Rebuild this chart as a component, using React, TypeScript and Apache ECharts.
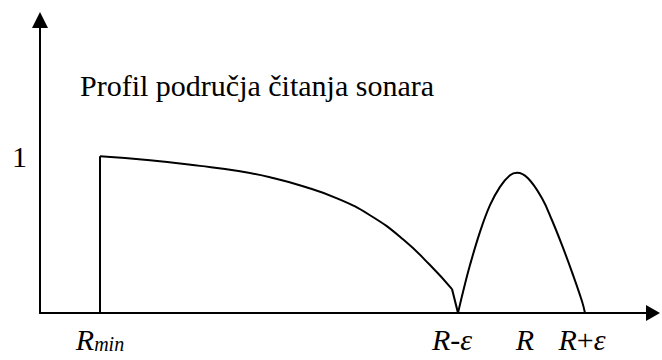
import React, { useEffect, useRef } from "react";
import * as echarts from "echarts";

// Sonar reading-area profile: normalized response against range.
// Range values are measured from the origin of the horizontal axis.
const RANGE_MAX = 613;
const RESPONSE_MAX = 1.87;

// Vertical edge at R_min
const edgeAtRmin: [number, number][] = [
  [60, 0],
  [60, 1.0],
];

// Decaying main reading zone, R_min .. just before R-ε
const mainZone: [number, number][] = [
  [60, 1.0],
  [110, 0.975],
  [160, 0.939],
  [200, 0.904],
  [230, 0.866],
  [263, 0.809],
  [297, 0.732],
  [330, 0.624],
  [363, 0.471],
  [390, 0.306],
  [412, 0.153],
];

// Short drop to zero at R-ε
const dropToZero: [number, number][] = [
  [412, 0.153],
  [418, 0],
];

// Hump around R, between R-ε and R+ε
const echoZone: [number, number][] = [
  [418, 0],
  [423, 0.134],
  [430, 0.306],
  [440, 0.518],
  [450, 0.688],
  [460, 0.805],
  [470, 0.879],
  [477, 0.895],
  [488, 0.86],
  [502, 0.732],
  [512, 0.592],
  [522, 0.433],
  [532, 0.261],
  [542, 0.075],
  [545, 0],
];

// Horizontal axis labels
const xLabelValues = [60, 412, 485, 542];
const xLabelTexts = [
  "{i|R}{sub|min}",
  "{i|R}{n|-}{i|ε}",
  "{i|R}",
  "{i|R}{n|+}{i|ε}",
];

// Vertical axis labels
const yLabelValues = [1];
const yLabelTexts = ["1"];

const TITLE = "Profil područja čitanja sonara";
const SERIF = "Liberation Serif, Times New Roman, serif";

export default function App() {
  const ref = useRef<HTMLDivElement>(null);

  useEffect(() => {
    if (!ref.current) return;
    const chart = echarts.init(ref.current, undefined, { renderer: "svg" });

    const lineStyle = { color: "#000", width: 2 };
    const mkSeries = (data: [number, number][], smooth: number | boolean) => ({
      type: "line",
      data,
      smooth,
      showSymbol: false,
      symbol: "none",
      lineStyle,
      silent: true,
    });

    chart.setOption({
      animation: false,
      backgroundColor: "#fff",
      title: {
        text: TITLE,
        left: 80,
        top: 70,
        padding: 0,
        textStyle: {
          fontFamily: SERIF,
          fontSize: 30,
          fontWeight: "normal",
          color: "#000",
        },
      },
      grid: { left: 40, right: 9, top: 20, bottom: 47 },
      xAxis: {
        type: "value",
        min: 0,
        max: RANGE_MAX,
        splitLine: { show: false },
        axisTick: { show: false },
        axisLine: {
          show: true,
          symbol: ["none", "triangle"],
          symbolSize: [16, 14],
          lineStyle: { color: "#000", width: 2 },
        },
        axisLabel: {
          customValues: xLabelValues,
          formatter: (v: number) => {
            const idx = xLabelValues.indexOf(v);
            return idx >= 0 ? xLabelTexts[idx] : "";
          },
          margin: 11,
          color: "#000",
          fontFamily: SERIF,
          fontSize: 30,
          rich: {
            i: { fontFamily: SERIF, fontSize: 30, fontStyle: "italic", color: "#000" },
            n: { fontFamily: SERIF, fontSize: 30, color: "#000" },
            sub: {
              fontFamily: SERIF,
              fontSize: 20,
              fontStyle: "italic",
              color: "#000",
              verticalAlign: "bottom",
              lineHeight: 14,
            },
          },
        },
      },
      yAxis: {
        type: "value",
        min: 0,
        max: RESPONSE_MAX,
        splitLine: { show: false },
        axisTick: { show: false },
        axisLine: {
          show: true,
          symbol: ["none", "triangle"],
          symbolSize: [16, 16],
          lineStyle: { color: "#000", width: 2 },
        },
        axisLabel: {
          customValues: yLabelValues,
          formatter: (v: number) => {
            const idx = yLabelValues.indexOf(v);
            return idx >= 0 ? yLabelTexts[idx] : "";
          },
          margin: 13,
          padding: [0, 0, 8, 0],
          color: "#000",
          fontFamily: SERIF,
          fontSize: 30,
        },
      },
      series: [
        mkSeries(edgeAtRmin, false),
        mkSeries(mainZone, 0.5),
        mkSeries(dropToZero, false),
        mkSeries(echoZone, 0.4),
      ],
    });

    return () => chart.dispose();
  }, []);

  return (
    <div
      ref={ref}
      style={{ position: "fixed", left: 0, top: 0, width: 662, height: 360 }}
    />
  );
}
